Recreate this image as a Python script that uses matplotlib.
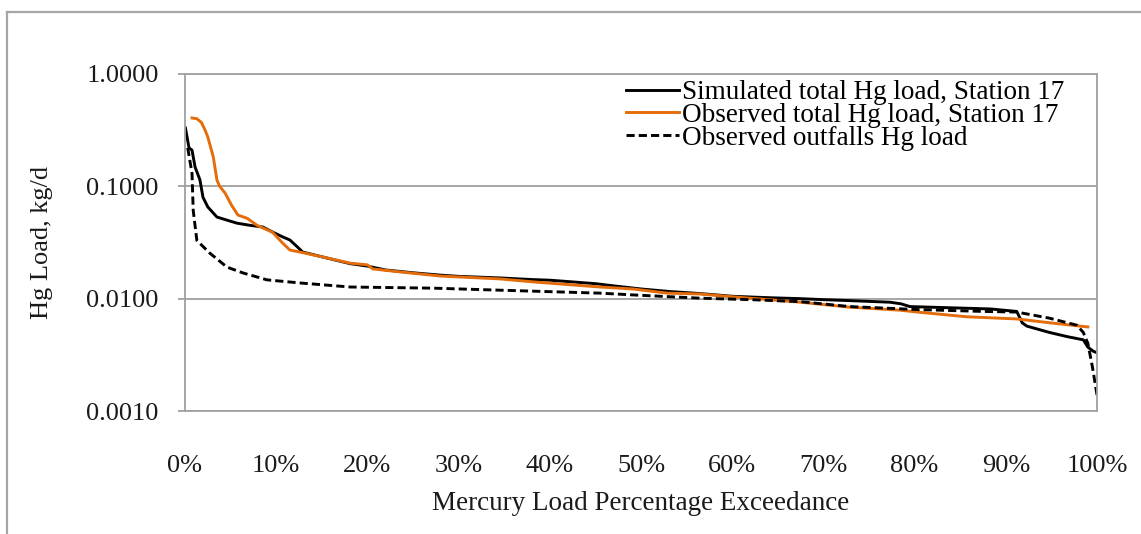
import matplotlib
matplotlib.use("Agg")
import matplotlib.pyplot as plt
from matplotlib.lines import Line2D
from matplotlib.ticker import FixedLocator, NullLocator, FuncFormatter

plt.rcParams['font.family'] = ['Liberation Serif', 'DejaVu Serif']

# exceedance (%) and load (kg/d)
sim_x = [0.05, 0.44, 0.77, 1.1, 1.64, 1.97, 2.5, 3.5, 4.6, 5.7, 7.1, 8.55, 9.65,
         10.7, 11.5, 12.3, 12.9, 15.1, 18.1, 20.0, 22.0, 25.0, 28.0, 30.0, 34.5,
         38.0, 40.0, 42.0, 45.0, 47.0, 50.0, 53.0, 56.5, 60.0, 64.0, 67.5, 70.0,
         73.0, 77.3, 78.5, 79.5, 83.9, 88.3, 91.2, 91.8, 92.3, 94.8, 96.7, 98.5,
         99.0, 99.6, 100.0]
sim_y = [0.33, 0.22, 0.21, 0.149, 0.114, 0.080, 0.0655, 0.0533, 0.050, 0.047,
         0.045, 0.0434, 0.039, 0.0355, 0.0333, 0.0290, 0.026, 0.0235, 0.0205,
         0.0195, 0.0180, 0.0170, 0.0162, 0.0158, 0.0153, 0.0148, 0.0146, 0.0142,
         0.0136, 0.0130, 0.0122, 0.0116, 0.0111, 0.0105, 0.0102, 0.0100, 0.0098,
         0.0096, 0.0093, 0.0090, 0.0085, 0.0083, 0.0081, 0.0077, 0.0061, 0.0057,
         0.0050, 0.0046, 0.0043, 0.0037, 0.0034, 0.0033]

obs_x = [0.77, 1.3, 1.8, 2.2, 2.5, 3.1, 3.5, 3.8, 4.4, 5.1, 5.8, 6.8, 7.9, 9.6,
         10.6, 11.5, 12.6, 15.1, 18.1, 20.0, 20.6, 23.6, 28.0, 34.5, 38.2, 45.5,
         49.1, 52.9, 56.5, 60.0, 64.0, 67.5, 72.9, 78.4, 80.3, 85.7, 91.2, 94.8,
         99.0]
obs_y = [0.406, 0.40, 0.37, 0.317, 0.275, 0.183, 0.114, 0.100, 0.087, 0.068,
         0.0555, 0.052, 0.045, 0.039, 0.0319, 0.0271, 0.026, 0.0235, 0.0207,
         0.0200, 0.0184, 0.0173, 0.0159, 0.0150, 0.0141, 0.0127, 0.0122, 0.0112,
         0.0110, 0.0104, 0.0098, 0.0093, 0.0084, 0.0079, 0.0076, 0.0069, 0.0066,
         0.0061, 0.0056]

out_x = [0.3, 0.77, 0.9, 1.3, 2.7, 4.6, 6.4, 9.0, 12.6, 18.1, 27.3, 34.5, 45.5,
         49.1, 56.5, 62.0, 67.5, 72.9, 80.3, 87.5, 91.2, 94.8, 97.8, 98.5, 99.0,
         99.5, 100.0]
out_y = [0.22, 0.13, 0.061, 0.033, 0.0255, 0.0191, 0.0169, 0.0147, 0.0138,
         0.0127, 0.0124, 0.0119, 0.0112, 0.0108, 0.0101, 0.0098, 0.0094, 0.0085,
         0.0080, 0.0077, 0.0076, 0.0067, 0.0058, 0.0050, 0.0040, 0.00246, 0.00139]

labels = ['Simulated total Hg load, Station 17',
          'Observed total Hg load, Station 17',
          'Observed outfalls Hg load']

W, H = 1141, 534
grey = '#a0a0a0'
orange = '#e46c0a'
ink = '#1a1a1a'

fig = plt.figure(figsize=(W / 100, H / 100), dpi=100)
ax = fig.add_axes([185 / W, 1 - 411 / H, 912 / W, 337 / H])

ax.plot(sim_x, sim_y, color='black', lw=2.1, label=labels[0])
ax.plot(obs_x, obs_y, color=orange, lw=2.1, label=labels[1])
ax.plot(out_x, out_y, color='black', lw=2.1, ls=(0, (2.8, 1.4)), label=labels[2])

ax.set_yscale('log')
ax.set_ylim(0.001, 1)
ax.set_xlim(0, 100)
ax.yaxis.set_major_locator(FixedLocator([0.001, 0.01, 0.1, 1]))
ax.yaxis.set_minor_locator(NullLocator())
ax.yaxis.set_major_formatter(FuncFormatter(lambda v, p: f'{v:.4f}'))
ax.set_xticks(range(0, 101, 10))
ax.set_xticklabels([f'{v}%' for v in range(0, 101, 10)])

ax.grid(axis='y', color=grey, lw=1.3)
ax.set_axisbelow(True)
for s in ax.spines.values():
    s.set_color(grey)
    s.set_linewidth(1.3)
ax.tick_params(axis='y', length=5, width=1.3, color=grey, pad=14,
               labelsize=19, labelcolor=ink)
ax.tick_params(axis='x', length=0, pad=32, labelsize=19, labelcolor=ink)

ax.legend(loc='upper left', bbox_to_anchor=((626 - 185) / 912, 0.982),
          frameon=False, fontsize=19.5, borderpad=0, borderaxespad=0,
          handlelength=1.95, handletextpad=0.12, labelspacing=-0.08)

fig.text(42 / W, 1 - 242 / H, 'Hg Load, kg/d', rotation=90, ha='center',
         va='center', fontsize=19, color=ink)
fig.text(641 / W, 1 - 503 / H, 'Mercury Load Percentage Exceedance',
         ha='center', va='center', fontsize=19.5, color=ink)

# outer chart border (left and top visible)
fig.add_artist(Line2D([7 / W, 7 / W], [0, 1 - 12 / H], color='#a6a6a6', lw=1.6))
fig.add_artist(Line2D([7 / W, 1], [1 - 12 / H, 1 - 12 / H], color='#a6a6a6', lw=1.6))

fig.savefig('out.png', dpi=100, facecolor='white')
